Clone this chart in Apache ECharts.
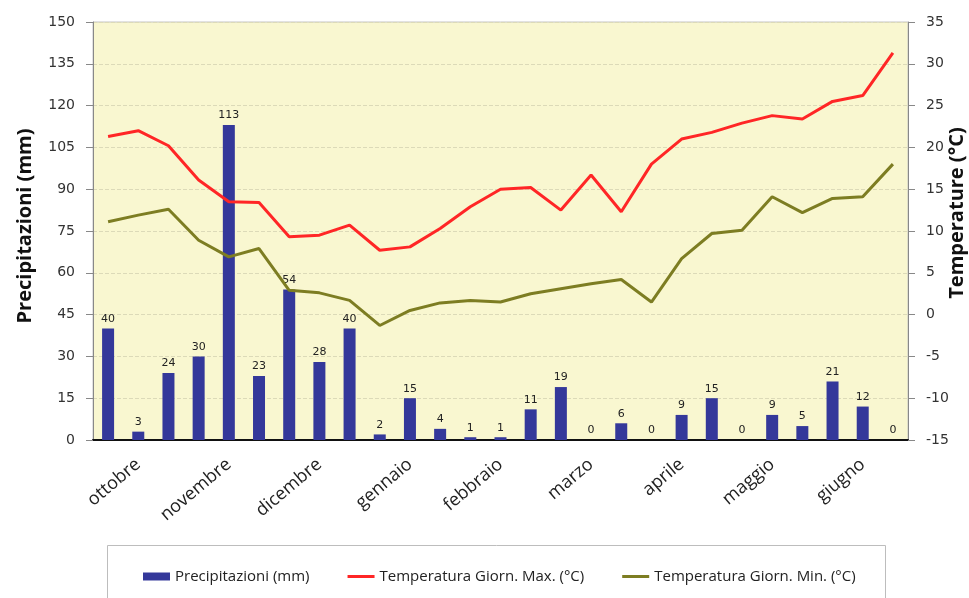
<!DOCTYPE html>
<html>
<head>
<meta charset="utf-8">
<script src="https://cdn.jsdelivr.net/npm/echarts@6/dist/echarts.min.js"></script>
<style>
  html, body { margin: 0; padding: 0; background: #fff; }
  #chart { width: 969px; height: 598px; }
</style>
</head>
<body>
<div id="chart"></div>
<script>
// months of the season, each split into three ten-day periods
const months = ["ottobre", "novembre", "dicembre", "gennaio", "febbraio", "marzo", "aprile", "maggio", "giugno"];
const decadi = ["I", "II", "III"];

// rainfall per ten-day period (mm)
const precip = [40, 3, 24, 30, 113, 23, 54, 28, 40, 2, 15, 4, 1, 1, 11, 19, 0, 6, 0, 9, 15, 0, 9, 5, 21, 12, 0];

// mean daily max / min temperature (°C)
const tMax = [21.3, 22.0, 20.2, 16.1, 13.5, 13.4, 9.3, 9.5, 10.7, 7.7, 8.1, 10.3, 12.9, 15.0, 15.2, 12.5, 16.7, 12.3, 18.0, 21.0, 21.8, 22.9, 23.8, 23.4, 25.5, 26.2, 31.3];
const tMin = [11.1, 11.9, 12.6, 8.9, 6.9, 7.9, 2.9, 2.6, 1.7, -1.3, 0.5, 1.4, 1.7, 1.5, 2.5, 3.1, 3.7, 4.2, 1.5, 6.7, 9.7, 10.1, 14.1, 12.2, 13.9, 14.1, 18.0];

const categories = months.flatMap(m => decadi.map(d => m + " " + d));

const chart = echarts.init(document.getElementById("chart"));

const tickFont = { fontFamily: "DejaVu Sans", fontSize: 14, color: "#333" };
const lineIcon = "path://M0,0L27,0L27,3L0,3Z";

chart.setOption({
  backgroundColor: "#fff",
  animation: false,
  graphic: [
    {
      type: "rect",
      left: 107, top: 545,
      shape: { width: 778, height: 70 },
      style: { fill: "#fff", stroke: "#bdbdbd", lineWidth: 1 },
      z: -1,
    },
  ],
  grid: {
    left: 93, right: 61, top: 22, bottom: 158,
    outerBoundsMode: "none",
    show: true,
    backgroundColor: "#f9f7d0",
    borderColor: "#c4c4c4",
    borderWidth: 1,
  },
  legend: {
    left: 143, top: 569,
    padding: 0,
    itemGap: 38,
    itemWidth: 27,
    itemHeight: 8,
    textStyle: { fontFamily: "Open Sans", fontSize: 15, color: "#222" },
    data: [
      { name: "Precipitazioni (mm)", icon: "rect" },
      { name: "Temperatura Giorn. Max. (°C)", icon: lineIcon },
      { name: "Temperatura Giorn. Min. (°C)", icon: lineIcon },
    ],
  },
  xAxis: {
    type: "category",
    data: categories,
    boundaryGap: true,
    axisLine: { lineStyle: { color: "#111", width: 2 } },
    axisTick: {
      interval: (i) => i % 3 === 0,
      length: 6,
      lineStyle: { color: "#111", width: 2 },
    },
    axisLabel: {
      interval: (i) => i % 3 === 1,
      rotate: 40,
      margin: 22,
      fontFamily: "Open Sans",
      fontSize: 18,
      color: "#222",
      formatter: (v) => v.split(" ")[0],
    },
    splitLine: { show: false },
  },
  yAxis: [
    {
      type: "value",
      min: 0, max: 150, interval: 15,
      name: "Precipitazioni (mm)",
      nameLocation: "middle",
      nameRotate: 90,
      nameGap: 58,
      nameMoveOverlap: false,
      nameTextStyle: { fontFamily: "Open Sans", fontWeight: "bold", fontSize: 20, color: "#111", padding: [0, 0, 0, 10] },
      axisLine: { show: true, lineStyle: { color: "#888" } },
      axisTick: { show: true, length: 7, lineStyle: { color: "#888" } },
      axisLabel: Object.assign({ margin: 18 }, tickFont),
      splitLine: { show: true, lineStyle: { color: "#dcdab8", type: "dashed" } },
    },
    {
      type: "value",
      position: "right",
      min: -15, max: 35, interval: 5,
      name: "Temperature (°C)",
      nameLocation: "middle",
      nameRotate: 90,
      nameGap: 39,
      nameMoveOverlap: false,
      nameTextStyle: { fontFamily: "Open Sans", fontWeight: "bold", fontSize: 20, color: "#111", padding: [0, 0, 0, 36] },
      axisLine: { show: true, lineStyle: { color: "#888" } },
      axisTick: { show: true, length: 7, lineStyle: { color: "#888" } },
      axisLabel: Object.assign({ margin: 18 }, tickFont),
      splitLine: { show: false },
    },
  ],
  series: [
    {
      name: "Precipitazioni (mm)",
      type: "bar",
      data: precip,
      barWidth: 12,
      itemStyle: { color: "#34389a" },
      label: {
        show: true,
        position: "top",
        distance: 4,
        fontFamily: "DejaVu Sans",
        fontSize: 11,
        color: "#222",
      },
      z: 2,
    },
    {
      name: "Temperatura Giorn. Max. (°C)",
      type: "line",
      yAxisIndex: 1,
      data: tMax,
      symbol: "none",
      lineStyle: { color: "#ff2626", width: 3 },
      itemStyle: { color: "#ff2626" },
      z: 3,
    },
    {
      name: "Temperatura Giorn. Min. (°C)",
      type: "line",
      yAxisIndex: 1,
      data: tMin,
      symbol: "none",
      lineStyle: { color: "#7d7d22", width: 3 },
      itemStyle: { color: "#7d7d22" },
      z: 3,
    },
  ],
});
</script>
</body>
</html>
